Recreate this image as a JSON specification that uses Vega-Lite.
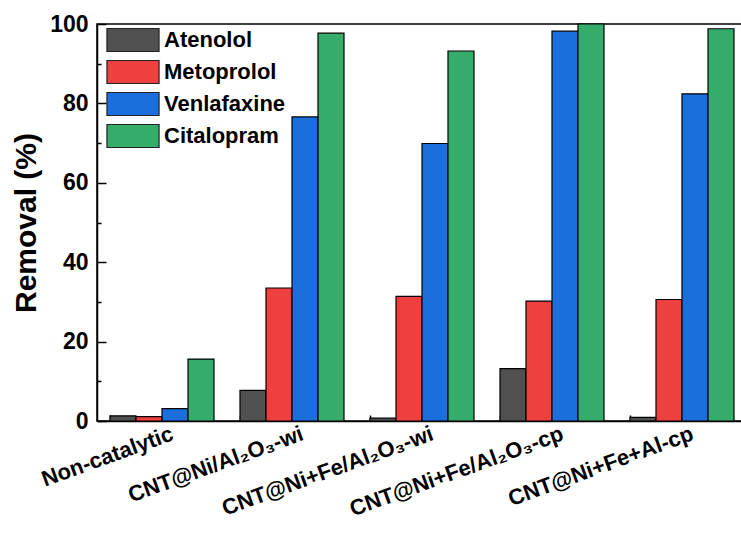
{
  "$schema": "https://vega.github.io/schema/vega-lite/v6.json",
  "autosize": "none",
  "width": 650,
  "height": 397,
  "padding": {"left": 97, "top": 24, "right": 0, "bottom": 112},
  "background": "white",
  "config": {
    "view": {"stroke": "black", "strokeWidth": 1.5},
    "font": "Liberation Sans"
  },
  "data": {
    "values": [
      {"catalyst": "Non-catalytic", "drug": "Atenolol", "removal": 1.3},
      {"catalyst": "Non-catalytic", "drug": "Metoprolol", "removal": 1.1},
      {"catalyst": "Non-catalytic", "drug": "Venlafaxine", "removal": 3.1},
      {"catalyst": "Non-catalytic", "drug": "Citalopram", "removal": 15.6},
      {"catalyst": "CNT@Ni/Al₂O₃-wi", "drug": "Atenolol", "removal": 7.7},
      {"catalyst": "CNT@Ni/Al₂O₃-wi", "drug": "Metoprolol", "removal": 33.5},
      {"catalyst": "CNT@Ni/Al₂O₃-wi", "drug": "Venlafaxine", "removal": 76.6},
      {"catalyst": "CNT@Ni/Al₂O₃-wi", "drug": "Citalopram", "removal": 97.7},
      {"catalyst": "CNT@Ni+Fe/Al₂O₃-wi", "drug": "Atenolol", "removal": 0.7},
      {"catalyst": "CNT@Ni+Fe/Al₂O₃-wi", "drug": "Metoprolol", "removal": 31.4},
      {"catalyst": "CNT@Ni+Fe/Al₂O₃-wi", "drug": "Venlafaxine", "removal": 69.9},
      {"catalyst": "CNT@Ni+Fe/Al₂O₃-wi", "drug": "Citalopram", "removal": 93.2},
      {"catalyst": "CNT@Ni+Fe/Al₂O₃-cp", "drug": "Atenolol", "removal": 13.2},
      {"catalyst": "CNT@Ni+Fe/Al₂O₃-cp", "drug": "Metoprolol", "removal": 30.2},
      {"catalyst": "CNT@Ni+Fe/Al₂O₃-cp", "drug": "Venlafaxine", "removal": 98.2},
      {"catalyst": "CNT@Ni+Fe/Al₂O₃-cp", "drug": "Citalopram", "removal": 100},
      {"catalyst": "CNT@Ni+Fe+Al-cp", "drug": "Atenolol", "removal": 0.9},
      {"catalyst": "CNT@Ni+Fe+Al-cp", "drug": "Metoprolol", "removal": 30.6},
      {"catalyst": "CNT@Ni+Fe+Al-cp", "drug": "Venlafaxine", "removal": 82.4},
      {"catalyst": "CNT@Ni+Fe+Al-cp", "drug": "Citalopram", "removal": 98.8}
    ]
  },
  "mark": {"type": "bar", "stroke": "black", "strokeWidth": 1.2},
  "encoding": {
    "x": {
      "field": "catalyst",
      "type": "nominal",
      "sort": null,
      "scale": {"paddingInner": 0.2, "paddingOuter": 0.1},
      "axis": {
        "title": null,
        "bandPosition": 0,
        "labelOffset": 7,
        "labelAngle": -20,
        "labelAlign": "right",
        "labelBaseline": "top",
        "labelFontSize": 22,
        "labelFontWeight": "bold",
        "labelColor": "black",
        "labelPadding": 8,
        "labelOverlap": false,
        "labelBound": false,
        "labelLimit": 0,
        "tickSize": -6,
        "tickWidth": 1.5,
        "tickColor": "black",
        "domainColor": "black",
        "domainWidth": 1.5,
        "grid": false
      }
    },
    "xOffset": {
      "field": "drug",
      "type": "nominal",
      "sort": ["Atenolol", "Metoprolol", "Venlafaxine", "Citalopram"],
      "scale": {"paddingInner": 0, "paddingOuter": 0}
    },
    "y": {
      "field": "removal",
      "type": "quantitative",
      "scale": {"domain": [0, 100], "nice": false},
      "axis": {
        "title": "Removal (%)",
        "titleFontSize": 30,
        "titleFontWeight": "bold",
        "titleColor": "black",
        "titlePadding": 8,
        "values": [0, 10, 20, 30, 40, 50, 60, 70, 80, 90, 100],
        "labelExpr": "datum.value % 20 === 0 ? datum.label : ''",
        "labelFontSize": 23,
        "labelFontWeight": "bold",
        "labelColor": "black",
        "labelPadding": 18,
        "tickSize": {"condition": {"test": "datum.value % 20 !== 0", "value": -4}, "value": -9},
        "tickWidth": 1.5,
        "tickColor": "black",
        "domainColor": "black",
        "domainWidth": 1.5,
        "grid": false
      }
    },
    "color": {
      "field": "drug",
      "type": "nominal",
      "sort": ["Atenolol", "Metoprolol", "Venlafaxine", "Citalopram"],
      "scale": {
        "domain": ["Atenolol", "Metoprolol", "Venlafaxine", "Citalopram"],
        "range": ["#505050", "#EF4040", "#1B6FDC", "#36AC6A"]
      },
      "legend": {
        "title": null,
        "orient": "none",
        "legendX": 23,
        "legendY": 3,
        "padding": 0,
        "symbolType": "M-2.17,-0.96H2.17V0.96H-2.17Z",
        "symbolSize": 576,
        "symbolStrokeColor": "#222",
        "symbolStrokeWidth": 1.2,
        "symbolOpacity": 1,
        "labelFontSize": 22,
        "labelFontWeight": "bold",
        "labelColor": "black",
        "labelOffset": 18,
        "rowPadding": 4
      }
    }
  }
}
